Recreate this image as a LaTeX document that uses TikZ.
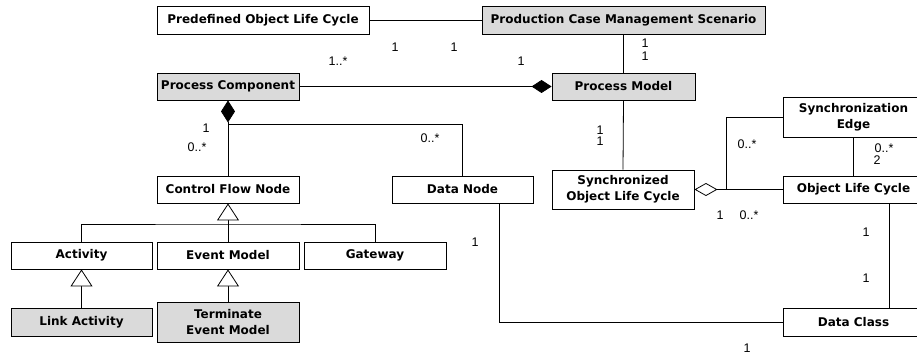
\documentclass[tikz,border=0pt]{standalone}
\usepackage{fontspec}
\setmainfont{DejaVu Sans}
\newfontfamily\mulfont{Liberation Sans}
\usetikzlibrary{arrows.meta}
\definecolor{boxgray}{RGB}{218,218,218}
\tikzset{
  cls/.style={draw=black, line width=0.9pt, fill=white, inner sep=0pt,
    font=\bfseries\fontsize{12}{16}\selectfont, align=center},
  shaded/.style={fill=boxgray},
  mult/.style={font=\mulfont\fontsize{12.5}{13}\selectfont, inner sep=0pt},
  assoc/.style={draw=black, line width=0.8pt},
  compoend/.style={-{Diamond[fill=black, length=20pt, width=13pt]}},
  compostart/.style={{Diamond[fill=black, length=22pt, width=14pt]}-},
  aggrstart/.style={{Diamond[open, fill=white, length=23pt, width=13pt]}-},
  gen/.style={-{Triangle[open, fill=white, length=17pt, width=22pt]}},
}
\begin{document}
\begin{tikzpicture}[x=1pt, y=-1pt]
\clip (0,0) rectangle (917,358);
\fill[white] (0,0) rectangle (917,358);

% classes
\node[cls, minimum width=212pt, minimum height=28pt] (pdolc) at (263,20) {Predefined Object Life Cycle};
\node[cls, shaded, minimum width=283pt, minimum height=28pt] (pcms) at (623.5,20) {Production Case Management Scenario};
\node[cls, shaded, minimum width=142pt, minimum height=27pt] (pc) at (228,86.5) {Process Component};
\node[cls, shaded, minimum width=143pt, minimum height=27pt] (pm) at (623.5,86.5) {Process Model};
\node[cls, minimum width=141pt, minimum height=40pt] (se) at (853.5,117) {Synchronization\\Edge};
\node[cls, minimum width=142pt, minimum height=27pt] (cfn) at (228,189.5) {Control Flow Node};
\node[cls, minimum width=141pt, minimum height=27pt] (dn) at (462.5,189.5) {Data Node};
\node[cls, minimum width=142pt, minimum height=39pt] (solc) at (623,189.5) {Synchronized\\Object Life Cycle};
\node[cls, minimum width=141pt, minimum height=27pt] (olc) at (853.5,189.5) {Object Life Cycle};
\node[cls, minimum width=141pt, minimum height=27pt] (act) at (81.5,255.5) {Activity};
\node[cls, minimum width=142pt, minimum height=27pt] (em) at (228,255.5) {Event Model};
\node[cls, minimum width=142pt, minimum height=27pt] (gw) at (375,255.5) {Gateway};
\node[cls, shaded, minimum width=141pt, minimum height=28pt] (la) at (81.5,322) {Link Activity};
\node[cls, shaded, minimum width=142pt, minimum height=40pt] (tem) at (228,322) {Terminate\\Event Model};
\node[cls, minimum width=141pt, minimum height=28pt] (dc) at (853.5,322) {Data Class};

% helper points
\coordinate (pcjoin) at (228,124);
\coordinate (syncjoin) at (726,189.5);
\coordinate (genbus) at (228,224);

% associations
\draw[assoc] (pdolc.east) -- (pcms.west);
\draw[assoc, compoend] (pc.east) -- (pm.west);
\draw[assoc] (pcms.south) -- (pm.north);
\draw[assoc, compostart] (pc.south) -- (cfn.north);
\draw[assoc] (pcjoin) -| (dn.north);
\draw[assoc] (pm.south) -- (solc.north);
\draw[assoc, aggrstart] (solc.east) -- (olc.west);
\draw[assoc] (syncjoin) |- (se.west);
\draw[assoc] (se.south) -- (olc.north);
\draw[assoc] ([xshift=36.5pt]dn.south) |- (dc.west);
\draw[assoc] ([xshift=35.5pt]olc.south) -- ([xshift=35.5pt]dc.north);

% generalizations
\draw[assoc, gen] (genbus) -- (cfn.south);
\draw[assoc] (act.north) |- (genbus) -| (gw.north);
\draw[assoc] (em.north) -- (genbus);
\draw[assoc, gen] (la.north) -- (act.south);
\draw[assoc, gen] (tem.north) -- (em.south);

% multiplicities
\node[mult] (m1) at (395,47) {1};
\node[mult] (m2) at (454,47) {1};
\node[mult] (m3) at (338,61) {1..*};
\node[mult] (m4) at (521,61) {1};
\node[mult] (m5) at (645,43) {1};
\node[mult] (m6) at (645,56) {1};
\node[mult] (m7) at (206,128) {1};
\node[mult] (m8) at (197,147) {0..*};
\node[mult] (m9) at (430,138) {0..*};
\node[mult] (m10) at (600,130) {1};
\node[mult] (m11) at (600,141) {1};
\node[mult] (m12) at (747,144) {0..*};
\node[mult] (m13) at (884,148) {0..*};
\node[mult] (m14) at (877,160) {2};
\node[mult] (m15) at (720,215) {1};
\node[mult] (m16) at (749,215) {0..*};
\node[mult] (m17) at (475,242) {1};
\node[mult] (m18) at (866,232) {1};
\node[mult] (m19) at (866,278) {1};
\node[mult] (m20) at (747,348) {1};
\end{tikzpicture}
\end{document}
